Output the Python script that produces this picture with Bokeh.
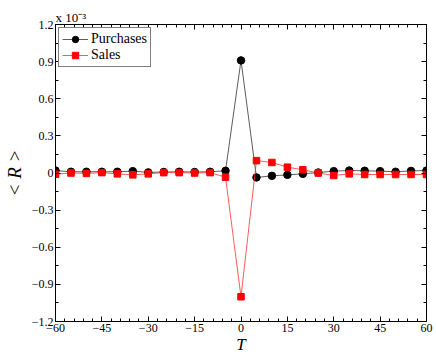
from bokeh.plotting import figure
from bokeh.models import Range1d, FixedTicker, LinearAxis
from bokeh.embed import file_html
from bokeh.resources import INLINE

# Data (R values in units of 1e-3)
lags = [-60, -55, -50, -45, -40, -35, -30, -25, -20, -15, -10, -5, 0,
        5, 10, 15, 20, 25, 30, 35, 40, 45, 50, 55, 60]
purchases = [0.02, 0.01, 0.01, 0.01, 0.01, 0.015, 0.005, 0.008, 0.01, 0.008, 0.01, 0.018, 0.91,
             -0.036, -0.023, -0.015, -0.007, 0.004, 0.015, 0.02, 0.018, 0.015, 0.01, 0.017, 0.02]
sales = [-0.01, 0.0, -0.003, 0.003, -0.007, -0.015, -0.007, 0.003, 0.003, 0.0, 0.003, -0.034, -1.0,
         0.10, 0.085, 0.047, 0.026, 0.0, -0.02, -0.007, -0.012, -0.012, -0.012, -0.012, -0.012]

x_ticks = [-60, -45, -30, -15, 0, 15, 30, 45, 60]
x_minor = [-57, -54, -51, -48, -42, -39, -36, -33, -27, -24, -21, -18, -12, -9, -6, -3,
           3, 6, 9, 12, 18, 21, 24, 27, 33, 36, 39, 42, 48, 51, 54, 57]
x_labels = ["\u221260", "\u221245", "\u221230", "\u221215", "0", "15", "30", "45", "60"]
y_ticks = [-1.2, -0.9, -0.6, -0.3, 0.0, 0.3, 0.6, 0.9, 1.2]
y_minor = [-1.05, -0.75, -0.45, -0.15, 0.15, 0.45, 0.75, 1.05]
y_labels = ["\u22121.2", "\u22120.9", "\u22120.6", "\u22120.3", "0", "0.3", "0.6", "0.9", "1.2"]

FONT = "Liberation Serif"

p = figure(width=436, height=357, output_backend="svg", toolbar_location=None,
           x_range=Range1d(-60, 60), y_range=Range1d(-1.2, 1.2),
           title="x 10\u207b\u00b3",
           min_border_left=52, min_border_right=10, min_border_top=24, min_border_bottom=36)
p.grid.visible = False
p.outline_line_color = "black"
p.outline_line_width = 1
p.background_fill_color = "white"
p.border_fill_color = "white"

p.title.text_font = FONT
p.title.text_font_size = "13px"
p.title.text_font_style = "normal"
p.title.text_color = "black"
p.title.align = "left"
p.title.standoff = 0
p.title.offset = 0

def style_axis(ax, ticks, minor, labels, show_labels):
    ax.ticker = FixedTicker(ticks=ticks, minor_ticks=minor)
    if show_labels:
        ax.major_label_overrides = {t: l for t, l in zip(ticks, labels)}
    else:
        ax.major_label_overrides = {t: "" for t in ticks}
    ax.major_tick_in = 5
    ax.major_tick_out = 0
    ax.minor_tick_in = 3
    ax.minor_tick_out = 0
    ax.axis_line_color = "black"
    ax.major_tick_line_color = "black"
    ax.minor_tick_line_color = "black"
    ax.major_label_text_font = FONT
    ax.major_label_text_font_size = "12px"
    ax.major_label_text_color = "black"
    ax.major_label_standoff = 2 if show_labels else 0

style_axis(p.xaxis[0], x_ticks, x_minor, x_labels, True)
style_axis(p.yaxis[0], y_ticks, y_minor, y_labels, True)
p.yaxis[0].major_label_orientation = "horizontal"

p.xaxis[0].axis_label = "T"
p.xaxis[0].axis_label_text_font = FONT
p.xaxis[0].axis_label_text_font_style = "italic"
p.xaxis[0].axis_label_text_font_size = "17px"
p.xaxis[0].axis_label_text_color = "black"
p.xaxis[0].axis_label_standoff = 0

p.yaxis[0].axis_label = "< R >"
p.yaxis[0].axis_label_text_font = FONT
p.yaxis[0].axis_label_text_font_style = "italic"
p.yaxis[0].axis_label_text_font_size = "19px"
p.yaxis[0].axis_label_text_color = "black"
p.yaxis[0].axis_label_standoff = 4

top_ax = LinearAxis()
style_axis(top_ax, x_ticks, x_minor, x_labels, False)
p.add_layout(top_ax, "above")
right_ax = LinearAxis()
style_axis(right_ax, y_ticks, y_minor, y_labels, False)
p.add_layout(right_ax, "right")

# Series
p.line(lags, purchases, line_color="#333333", line_width=0.8, legend_label="Purchases")
p.scatter(lags, purchases, marker="circle", size=7.5, fill_color="black", line_color="black",
          legend_label="Purchases")
p.line(lags, sales, line_color="#ff3030", line_width=0.8, legend_label="Sales")
p.scatter(lags, sales, marker="square", size=6.5, fill_color="#ff0000", line_color="#ff0000",
          legend_label="Sales")

leg = p.legend[0]
leg.location = "top_left"
leg.margin = 3
leg.padding = 3
leg.spacing = 0
leg.label_text_font = FONT
leg.label_text_font_size = "14px"
leg.label_text_color = "black"
leg.label_height = 16
leg.glyph_height = 16
leg.glyph_width = 26
leg.label_standoff = 3
leg.border_line_color = "black"
leg.border_line_width = 1
leg.background_fill_alpha = 1

open("out.html", "w").write(file_html(p, INLINE))
